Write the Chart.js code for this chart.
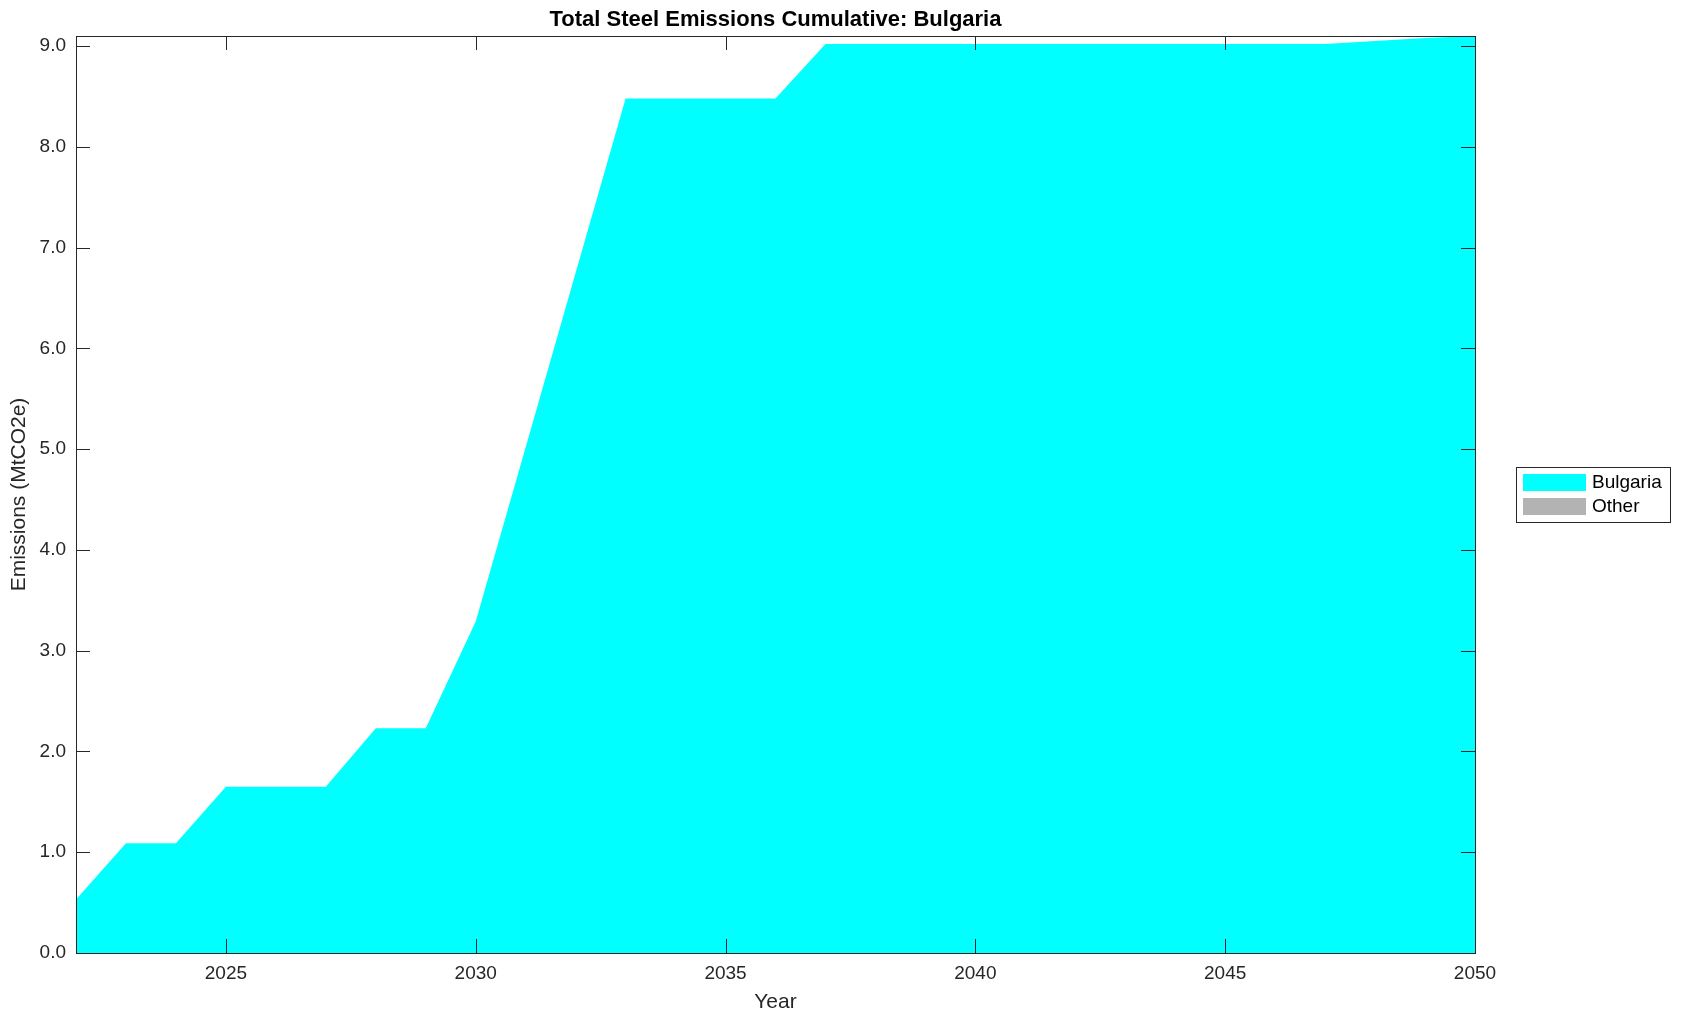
<!DOCTYPE html>
<html>
<head>
<meta charset="utf-8">
<script src="https://cdn.jsdelivr.net/npm/chart.js@4.4.1/dist/chart.umd.min.js"></script>
<style>
  html, body { margin: 0; padding: 0; background: #fff; }
  #wrap { width: 1681px; height: 1021px; }
</style>
</head>
<body>
<div id="wrap"><canvas id="chart"></canvas></div>
<script>
const years = [2022, 2023, 2024, 2025, 2026, 2027, 2028, 2029, 2030, 2031, 2032, 2033, 2034, 2035, 2036,
  2037, 2038, 2039, 2040, 2041, 2042, 2043, 2044, 2045, 2046, 2047, 2048, 2049, 2050];
const bulgaria = [0.53, 1.09, 1.09, 1.65, 1.65, 1.65, 2.23, 2.23, 3.29, 5.02, 6.75, 8.48, 8.48, 8.48, 8.48,
  9.02, 9.02, 9.02, 9.02, 9.02, 9.02, 9.02, 9.02, 9.02, 9.02, 9.02, 9.05, 9.08, 9.10];
const other = years.map(() => 0);
const xTicks = [2025, 2030, 2035, 2040, 2045, 2050];
const yTicks = [0, 1, 2, 3, 4, 5, 6, 7, 8, 9];

const FONT = '"Liberation Sans", Arial, Helvetica, sans-serif';
const INK = '#262626';

// frame, inward tick marks, title and legend
const decor = {
  id: 'decor',
  afterDraw(chart) {
    const { ctx, chartArea: a, scales: { x, y } } = chart;
    ctx.save();
    ctx.strokeStyle = INK;
    ctx.lineWidth = 1;
    ctx.strokeRect(Math.round(a.left) + 0.5, Math.round(a.top) + 0.5,
      Math.round(a.right - a.left), Math.round(a.bottom - a.top));
    ctx.beginPath();
    xTicks.forEach(v => {
      const px = Math.round(x.getPixelForValue(v)) + 0.5;
      ctx.moveTo(px, a.bottom); ctx.lineTo(px, a.bottom - 14);
      ctx.moveTo(px, a.top); ctx.lineTo(px, a.top + 14);
    });
    yTicks.forEach(v => {
      const py = Math.round(y.getPixelForValue(v)) + 0.5;
      ctx.moveTo(a.left, py); ctx.lineTo(a.left + 14, py);
      ctx.moveTo(a.right, py); ctx.lineTo(a.right - 14, py);
    });
    ctx.stroke();

    ctx.fillStyle = '#000';
    ctx.font = 'bold 22px ' + FONT;
    ctx.textAlign = 'center';
    ctx.textBaseline = 'middle';
    ctx.fillText('Total Steel Emissions Cumulative: Bulgaria', (a.left + a.right) / 2, 20);

    // legend
    const lx = 1516, ly = 467;
    ctx.fillStyle = '#fff';
    ctx.fillRect(lx, ly, 154, 55);
    ctx.strokeStyle = INK;
    ctx.strokeRect(lx + 0.5, ly + 0.5, 154, 55);
    ctx.font = '19px ' + FONT;
    ctx.textAlign = 'left';
    chart.data.datasets.forEach((ds, i) => {
      const ry = ly + 7 + i * 24;
      ctx.fillStyle = ds.backgroundColor;
      ctx.fillRect(lx + 7, ry, 63, 17);
      ctx.fillStyle = '#000';
      ctx.fillText(ds.label, lx + 76, ry + 9);
    });
    ctx.restore();
  }
};

new Chart(document.getElementById('chart'), {
  type: 'line',
  data: {
    labels: years,
    datasets: [
      { label: 'Bulgaria', data: bulgaria, backgroundColor: '#00FFFF', borderWidth: 0, fill: 'origin' },
      { label: 'Other', data: other, backgroundColor: '#B3B3B3', borderWidth: 0, fill: '-1' }
    ]
  },
  options: {
    responsive: true,
    maintainAspectRatio: false,
    animation: false,
    elements: { point: { radius: 0 }, line: { tension: 0 } },
    layout: { padding: { top: 36, right: 206, left: 0, bottom: 0 } },
    plugins: { legend: { display: false }, title: { display: false }, tooltip: { enabled: false } },
    scales: {
      x: {
        type: 'linear',
        min: 2022, max: 2050,
        afterBuildTicks: s => { s.ticks = xTicks.map(v => ({ value: v })); },
        afterFit: s => { s.height = 68; },
        grid: { display: false, drawTicks: false },
        border: { display: false },
        ticks: { color: INK, font: { family: FONT, size: 19 }, padding: 9, maxRotation: 0,
          callback: v => String(v) },
        title: { display: true, text: 'Year', color: INK, font: { family: FONT, size: 21 },
          padding: { top: 0, bottom: 6 } }
      },
      y: {
        stacked: true,
        min: 0, max: 9.1,
        afterBuildTicks: s => { s.ticks = yTicks.map(v => ({ value: v })); },
        afterFit: s => { s.width = 76; },
        grid: { display: false, drawTicks: false },
        border: { display: false },
        ticks: { color: INK, font: { family: FONT, size: 19 }, padding: 10,
          callback: v => v.toFixed(1) },
        title: { display: true, text: 'Emissions (MtCO2e)', color: INK, font: { family: FONT, size: 21 },
          padding: { top: 7, bottom: 0 } }
      }
    }
  },
  plugins: [decor]
});
</script>
</body>
</html>
